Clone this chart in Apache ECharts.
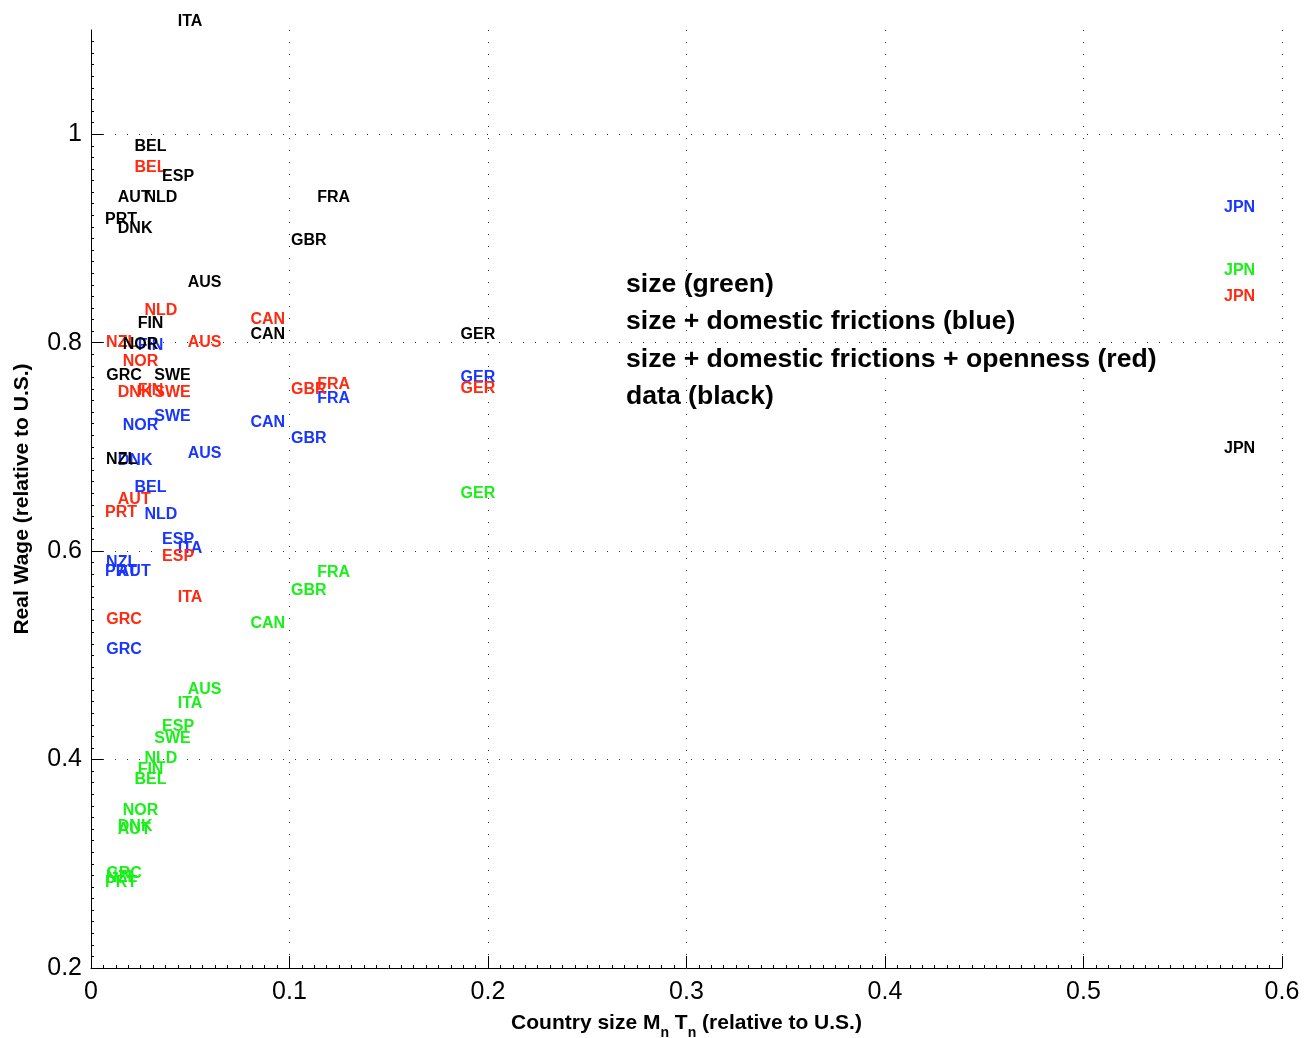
<!DOCTYPE html>
<html>
<head>
<meta charset="utf-8">
<script src="https://cdn.jsdelivr.net/npm/echarts@6/dist/echarts.min.js"></script>
<style>
html,body{margin:0;padding:0;background:#fff;}
#chart{width:1304px;height:1038px;}
</style>
</head>
<body>
<div id="chart"></div>
<script>
const countries = ['AUS','AUT','BEL','CAN','DNK','FIN','FRA','GER','GRC','ITA','JPN','NLD','NZL','NOR','PRT','ESP','SWE','GBR'];
const countrySize = [0.0487,0.0135,0.0219,0.0803,0.0135,0.0235,0.1140,0.1862,0.0077,0.0437,0.5708,0.0269,0.0076,0.0160,0.0071,0.0358,0.0319,0.1008];
const wageSize = [0.468,0.334,0.382,0.531,0.337,0.391,0.580,0.656,0.292,0.455,0.870,0.402,0.288,0.352,0.283,0.433,0.421,0.563];
const wageFrictions = [0.695,0.581,0.662,0.724,0.688,0.798,0.747,0.767,0.506,0.603,0.931,0.636,0.590,0.721,0.581,0.612,0.730,0.709];
const wageOpenness = [0.801,0.650,0.969,0.823,0.753,0.755,0.761,0.757,0.535,0.556,0.845,0.832,0.801,0.783,0.638,0.596,0.753,0.756];
const wageData = [0.859,0.940,0.989,0.809,0.910,0.819,0.940,0.809,0.769,1.109,0.699,0.940,0.689,0.799,0.919,0.960,0.769,0.899];
const yTicks = [0.2,0.4,0.6,0.8,1];
const legendLines = ['size (green)','size + domestic frictions (blue)','size + domestic frictions + openness (red)','data (black)'];

const FONT = '"Liberation Sans", Arial, Helvetica, sans-serif';

function makeSeries(name, ys, color) {
  return {
    name: name,
    type: 'scatter',
    symbolSize: 0,
    clip: false,
    silent: true,
    itemStyle: {opacity: 1, color: color},
    data: countries.map((c, i) => [countrySize[i], ys[i], c]),
    label: {
      show: true,
      position: 'right',
      distance: 0,
      offset: [0, 1],
      opacity: 1,
      formatter: p => p.data[2],
      color: color,
      fontFamily: FONT,
      fontWeight: 'bold',
      fontSize: 16,
      verticalAlign: 'middle'
    }
  };
}

const gridDot = '#333';
const chart = echarts.init(document.getElementById('chart'), null, {renderer: 'canvas'});
chart.setOption({
  animation: false,
  backgroundColor: '#fff',
  grid: {left: 91, top: 30, width: 1191, height: 938, containLabel: false, outerBoundsMode: 'none'},
  xAxis: {
    type: 'value', min: 0, max: 0.6, interval: 0.1,
    name: 'Country size M{sub|n} T{sub|n} (relative to U.S.)',
    nameLocation: 'middle', nameGap: 38,
    nameTextStyle: {
      fontFamily: FONT, fontWeight: 'bold', fontSize: 21, color: '#000',
      rich: {sub: {fontFamily: FONT, fontWeight: 'bold', fontSize: 14, color: '#000', padding: [20, 0, 0, 0]}}
    },
    axisLine: {show: true, onZero: false, lineStyle: {color: '#000', width: 1}},
    axisTick: {show: true, inside: true, length: 12, lineStyle: {color: '#000'}},
    minorTick: {show: true, splitNumber: 16, length: 3, lineStyle: {color: '#000'}},
    axisLabel: {fontFamily: FONT, fontSize: 25, color: '#000', margin: 12},
    splitLine: {show: true, lineStyle: {type: [1, 11], width: 1, color: ['rgba(0,0,0,0)', gridDot, gridDot, gridDot, gridDot, gridDot, gridDot]}}
  },
  yAxis: {
    type: 'value', min: 0.2, max: 1.1, interval: 0.2,
    name: 'Real Wage (relative to U.S.)',
    nameLocation: 'middle', nameGap: 58,
    nameTextStyle: {fontFamily: FONT, fontWeight: 'bold', fontSize: 21, color: '#000'},
    axisLine: {show: true, onZero: false, lineStyle: {color: '#000', width: 1}},
    axisTick: {show: true, inside: true, length: 12, lineStyle: {color: '#000'}, customValues: yTicks},
    minorTick: {show: true, splitNumber: 18, length: 3, lineStyle: {color: '#000'}},
    axisLabel: {fontFamily: FONT, fontSize: 25, color: '#000', margin: 9, padding: [3, 0, 0, 0], customValues: yTicks},
    splitLine: {show: true, lineStyle: {type: [1, 11], width: 1, color: ['rgba(0,0,0,0)', gridDot, gridDot, gridDot, gridDot, 'rgba(0,0,0,0)']}}
  },
  graphic: [{
    type: 'group', left: 520, top: 258, z: 100,
    children: [
      {type: 'rect', shape: {x: 0, y: 0, width: 665, height: 163}, style: {fill: '#fff'}},
      {type: 'text', x: 106, y: 7.5, style: {text: legendLines.join('\n'), font: 'bold 26.6px ' + FONT, lineHeight: 37.5, fill: '#000'}}
    ]
  }],
  series: [
    makeSeries('size', wageSize, '#18f018'),
    makeSeries('size + domestic frictions', wageFrictions, '#1836ff'),
    makeSeries('size + domestic frictions + openness', wageOpenness, '#ff2a10'),
    makeSeries('data', wageData, '#000')
  ]
});
</script>
</body>
</html>
